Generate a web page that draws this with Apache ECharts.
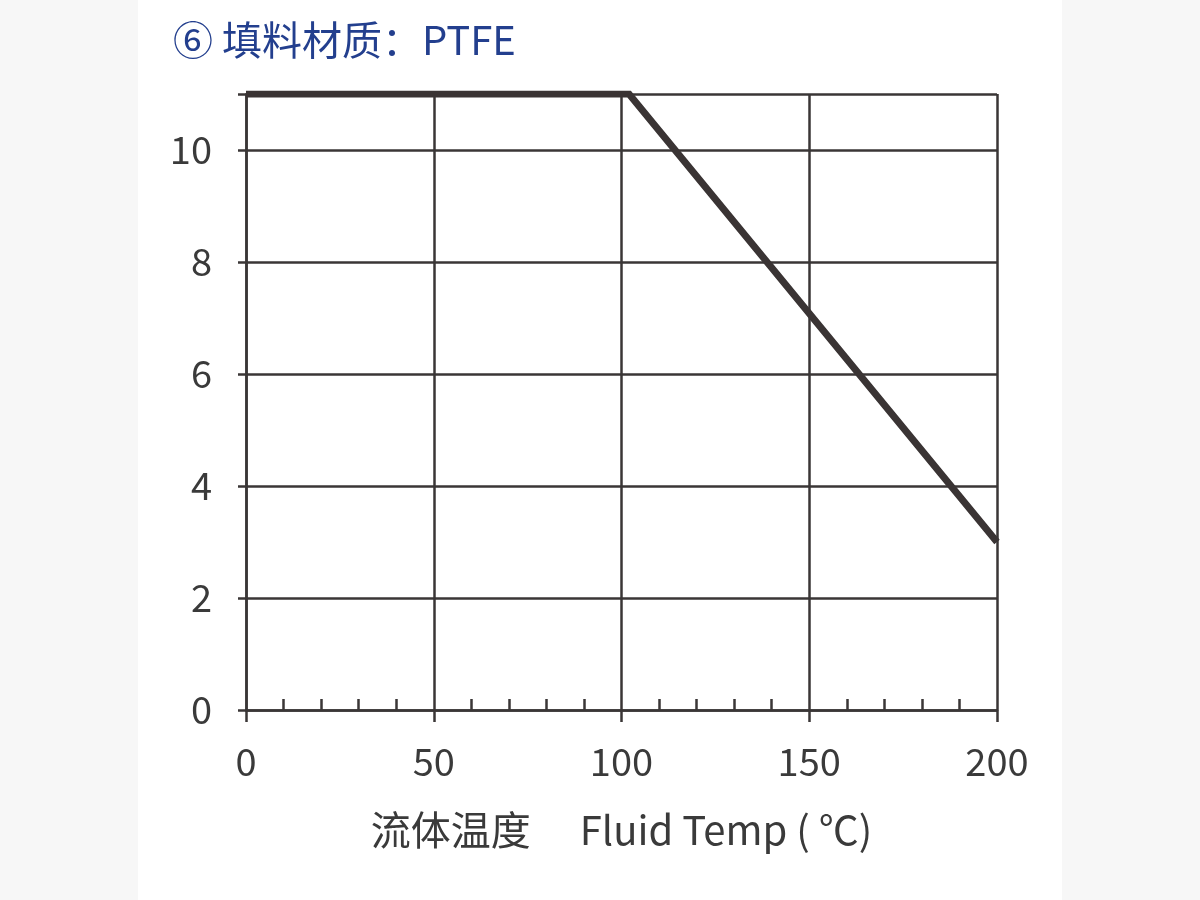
<!DOCTYPE html>
<html>
<head>
<meta charset="utf-8">
<script src="https://cdn.jsdelivr.net/npm/echarts@6/dist/echarts.min.js"></script>
<style>
  html, body { margin: 0; padding: 0; background: #f7f7f7; }
  #panel { position: absolute; left: 138px; top: 0; width: 924px; height: 900px; background: #fff; }
  #main { position: absolute; left: 0; top: 0; width: 1200px; height: 900px; }
</style>
</head>
<body>
<div id="panel"></div>
<div id="main"></div>
<script>
// 数据：流体温度 -> 压力
var tempX = [0, 102, 200];
var pressureY = [11, 11, 3.0];
var xTicks = [0, 50, 100, 150, 200];
var yTicks = [0, 2, 4, 6, 8, 10];

var chartDom = document.getElementById('main');
var myChart = echarts.init(chartDom, null, { renderer: 'canvas' });
var option;

var lineData = [];
tempX.map(function (x, i) {
    lineData.push([x, pressureY[i]]);
});

var font = "'Noto Sans CJK SC', 'Noto Sans', sans-serif";
var gridColor = '#3a3636';

option = {
    backgroundColor: 'transparent',
    title: {
        text: '⑥ 填料材质：PTFE',
        left: 168,
        top: 15,
        textStyle: {
            color: '#233f8e',
            fontSize: 40,
            fontWeight: 'normal',
            fontFamily: font
        }
    },
    grid: {
        left: 246,
        right: 203,
        top: 94,
        bottom: 190
    },
    xAxis: [
        {
            type: 'value',
            min: xTicks[0],
            max: xTicks[xTicks.length - 1],
            interval: 50,
            name: '流体温度　 Fluid Temp ( ℃)',
            nameLocation: 'middle',
            nameGap: 100,
            nameTextStyle: {
                color: '#3a3a3a',
                fontSize: 40,
                fontFamily: font
            },
            axisLine: { show: true, lineStyle: { color: gridColor, width: 2.5 } },
            axisTick: { show: true, length: 12, lineStyle: { color: gridColor, width: 2.5 } },
            axisLabel: {
                color: '#3a3a3a',
                fontSize: 38,
                margin: 33,
                fontFamily: font
            },
            splitLine: { show: true, lineStyle: { color: gridColor, width: 2.5 } }
        },
        {
            // 次刻度，朝内
            type: 'value',
            min: xTicks[0],
            max: xTicks[xTicks.length - 1],
            interval: 50,
            position: 'bottom',
            axisLine: { show: false },
            axisTick: { show: false, inside: true },
            minorTick: { show: true, splitNumber: 5, length: 11, lineStyle: { color: gridColor, width: 2.5 } },
            axisLabel: { show: false },
            splitLine: { show: false }
        }
    ],
    yAxis: {
        type: 'value',
        min: 0,
        max: 11,
        interval: 2,
        axisLine: { show: true, lineStyle: { color: gridColor, width: 2.5 } },
        axisTick: { show: true, length: 8, lineStyle: { color: gridColor, width: 2.5 } },
        axisLabel: {
            color: '#3a3a3a',
            fontSize: 38,
            margin: 34,
            fontFamily: font,
            formatter: function (v) {
                return yTicks.indexOf(v) >= 0 ? String(v) : '';
            }
        },
        splitLine: { show: true, lineStyle: { color: gridColor, width: 2.5 } }
    },
    series: [
        {
            type: 'line',
            data: lineData,
            symbol: 'none',
            lineStyle: { color: '#3a3434', width: 7, cap: 'butt', join: 'miter' },
            z: 5
        }
    ],
    animation: false
};

myChart.setOption(option);
</script>
</body>
</html>
